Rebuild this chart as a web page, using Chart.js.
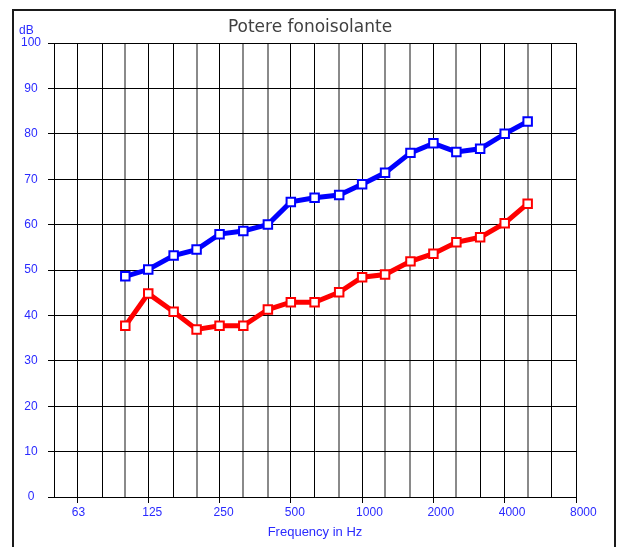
<!DOCTYPE html>
<html>
<head>
<meta charset="utf-8">
<script src="https://cdn.jsdelivr.net/npm/chart.js@4"></script>
<style>
  body { margin: 0; background: #fff; }
  canvas { display: block; }
</style>
</head>
<body>
<canvas id="grafica" width="618" height="547"></canvas>
<script>
// Bandes de terç d'octava mesurades (Hz)
const frequencies = [100, 125, 160, 200, 250, 315, 400, 500, 630, 800, 1000, 1250, 1600, 2000, 2500, 3150, 4000, 5000];
// Valors en dB de les dues corbes
const serieBlava = [48.6, 50.1, 53.2, 54.5, 57.9, 58.6, 60.0, 65.0, 65.9, 66.5, 68.9, 71.4, 75.8, 77.9, 76.0, 76.7, 80.0, 82.7];
const serieVermella = [37.7, 44.8, 40.8, 36.9, 37.7, 37.7, 41.3, 42.9, 42.9, 45.1, 48.4, 49.0, 51.9, 53.6, 56.1, 57.2, 60.3, 64.6];
// Línies verticals de la graella i les que porten etiqueta
const bandesGraella = [50, 63, 80, 100, 125, 160, 200, 250, 315, 400, 500, 630, 800, 1000, 1250, 1600, 2000, 2500, 3150, 4000, 5000, 6300, 8000];
const etiquetesX = [63, 125, 250, 500, 1000, 2000, 4000, 8000];
// Línies que queden més clares (gruix de mig píxel)
const liniesClares = [100, 200, 315, 400, 800, 1250, 1600, 2500, 5000];

const blau = '#2a2aff';

// Funció per passar una sèrie a punts {x, y}
function punts(valors) {
    return frequencies.map((f, i) => ({ x: f, y: valors[i] }));
}

// Marc, títol i unitat de l'eix
const decoracio = {
    id: 'decoracio',
    beforeDraw(chart) {
        const ctx = chart.ctx;
        ctx.save();
        ctx.fillStyle = '#fff';
        ctx.fillRect(0, 0, chart.width, chart.height);
        ctx.restore();
    },
    afterDraw(chart) {
        const ctx = chart.ctx;
        ctx.save();
        ctx.strokeStyle = '#1a1a1a';
        ctx.lineWidth = 2;
        ctx.strokeRect(13, 10, 602, 545);

        ctx.fillStyle = '#404040';
        ctx.font = '17px "DejaVu Sans"';
        ctx.textAlign = 'center';
        ctx.textBaseline = 'alphabetic';
        ctx.fillText('Potere fonoisolante', 310, 31.5);

        ctx.fillStyle = blau;
        ctx.font = '12px "Liberation Sans"';
        ctx.textAlign = 'left';
        ctx.fillText('dB', 19, 33.5);
        ctx.restore();
    }
};

new Chart(document.getElementById('grafica'), {
    type: 'line',
    data: {
        datasets: [{
            data: punts(serieVermella),
            borderColor: '#ff0000',
            borderWidth: 5,
            pointStyle: 'rect',
            pointRadius: 6,
            pointBackgroundColor: '#fff',
            pointBorderColor: '#ff0000',
            pointBorderWidth: 2
        }, {
            data: punts(serieBlava),
            borderColor: '#0000ff',
            borderWidth: 5,
            pointStyle: 'rect',
            pointRadius: 6,
            pointBackgroundColor: '#fff',
            pointBorderColor: '#0000ff',
            pointBorderWidth: 2
        }]
    },
    options: {
        responsive: false,
        animation: false,
        devicePixelRatio: 1,
        layout: { padding: { top: 43, right: 42, left: 0, bottom: 0 } },
        plugins: {
            legend: { display: false },
            tooltip: { enabled: false }
        },
        scales: {
            x: {
                type: 'logarithmic',
                min: 50,
                max: 8000,
                afterBuildTicks: s => { s.ticks = bandesGraella.map(v => ({ value: v })); },
                afterFit: s => { s.height = 50; s.paddingLeft = 0; s.paddingRight = 0; },
                ticks: {
                    autoSkip: false,
                    maxRotation: 0,
                    align: 'start',
                    labelOffset: -6,
                    padding: 2,
                    color: blau,
                    font: { family: 'Liberation Sans', size: 12 },
                    callback: v => etiquetesX.includes(v) ? String(v) : ''
                },
                grid: {
                    color: c => liniesClares.includes(c.tick.value) ? '#8a8a8a' : '#000',
                    lineWidth: c => liniesClares.includes(c.tick.value) ? 2 : 1,
                    tickLength: 6,
                    tickColor: c => etiquetesX.includes(c.tick.value) ? '#000' : 'rgba(0,0,0,0)',
                    tickWidth: 1
                },
                border: { color: '#000', width: 1 },
                title: {
                    display: true,
                    text: 'Frequency in Hz',
                    color: blau,
                    font: { family: 'Liberation Sans', size: 13 },
                    padding: { top: 0, bottom: 7 }
                }
            },
            y: {
                min: 0,
                max: 100,
                afterFit: s => { s.width = 54; s.paddingTop = 0; s.paddingBottom = 0; },
                ticks: {
                    stepSize: 10,
                    padding: 7,
                    crossAlign: 'center',
                    color: blau,
                    font: { family: 'Liberation Sans', size: 12 }
                },
                grid: {
                    color: '#000',
                    lineWidth: 1,
                    tickLength: 6
                },
                border: { color: '#000', width: 1 }
            }
        }
    },
    plugins: [decoracio]
});
</script>
</body>
</html>
